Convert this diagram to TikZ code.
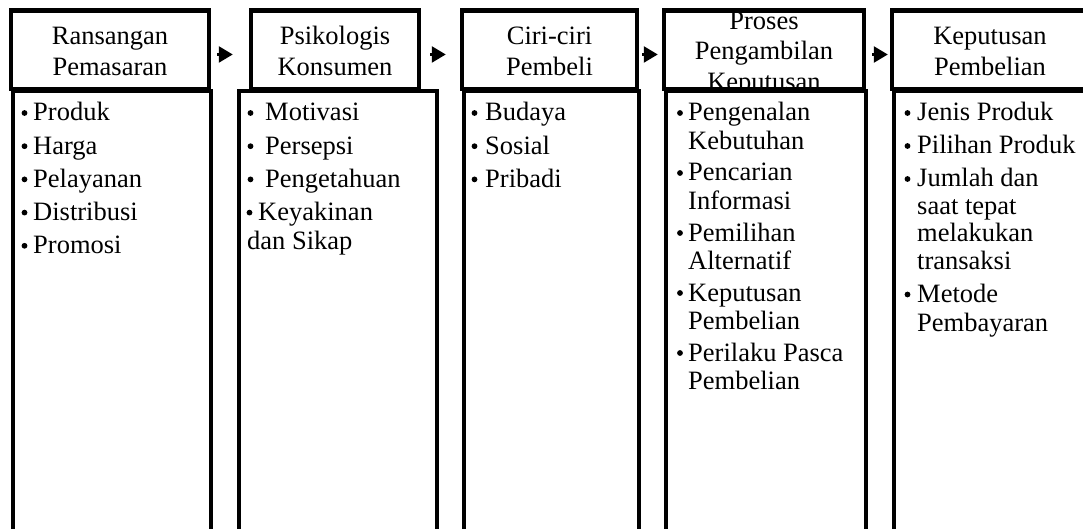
\documentclass[tikz,border=0pt]{standalone}
\usepackage{fontspec}
\setmainfont{Liberation Serif}
\usetikzlibrary{arrows.meta}
\tikzset{
  hdr/.style={draw, line width=4.5pt, rectangle, inner sep=0pt, minimum height=78.5pt},
  bodybox/.style={draw, line width=4pt, fill=white, rectangle, inner sep=0pt, anchor=north west, minimum height=520pt},
  htxt/.style={anchor=base, inner sep=0pt, font=\fontsize{26.5}{30.5}\selectfont},
  ltxt/.style={anchor=base west, inner sep=0pt, font=\fontsize{26.5}{30.5}\selectfont},
  dotn/.style={circle, fill=black, inner sep=0pt, minimum size=5.8pt},
  arr/.style={line width=2.5pt, -{Triangle[length=14pt,width=16pt]}}
}
\newcommand\hlines[1]{\begin{tabular}[t]{@{}c@{}}#1\end{tabular}}
\begin{document}
\begin{tikzpicture}[x=1pt,y=-1pt]
\useasboundingbox (0,0) rectangle (1083,529);
\clip (0,0) rectangle (1083,529);
% header boxes
\node[hdr, minimum width=198pt] (h1) at (110,49.75) {};
\node[hdr, minimum width=168pt] (h2) at (335,49.75) {};
\node[hdr, minimum width=175pt] (h3) at (549.5,49.75) {};
\node[hdr, minimum width=200pt] (h4) at (764,49.75) {};
\node[hdr, minimum width=196pt] (h5) at (990,49.75) {};
% header texts
\node[htxt] (t1) at (110,44.75) {\hlines{Ransangan\\Pemasaran}};
\node[htxt] (t2) at (335,44.75) {\hlines{Psikologis\\Konsumen}};
\node[htxt] (t3) at (549.5,44.75) {\hlines{Ciri-ciri\\Pembeli}};
\node[htxt] (t4) at (764,29.5) {\hlines{Proses\\Pengambilan\\Keputusan}};
\node[htxt] (t5) at (990,44.75) {\hlines{Keputusan\\Pembelian}};
% body boxes
\node[bodybox, minimum width=198pt] (d1) at (11,89) {};
\node[bodybox, minimum width=198pt] (d2) at (237,89) {};
\node[bodybox, minimum width=175pt] (d3) at (462,89) {};
\node[bodybox, minimum width=200pt] (d4) at (664,89) {};
\node[bodybox, minimum width=196pt] (d5) at (892,89) {};
% arrows
\draw[arr, shorten <=6pt, shorten >=16pt] ([yshift=-4.75pt]h1.east) -- ([yshift=-4.75pt]h2.west);
\draw[arr, shorten <=9pt, shorten >=14pt] ([yshift=-4.75pt]h2.east) -- ([yshift=-4.75pt]h3.west);
\draw[arr, shorten <=3pt, shorten >=4pt] ([yshift=-4.75pt]h3.east) -- ([yshift=-4.75pt]h4.west);
\draw[arr, shorten <=6pt, shorten >=2pt] ([yshift=-4.75pt]h4.east) -- ([yshift=-4.75pt]h5.west);
% box 1 list
\node[dotn] (b1a) at (24.5,113) {};   \node[ltxt] (l1a) at (33,121) {Produk};
\node[dotn] (b1b) at (24.5,146.2) {}; \node[ltxt] (l1b) at (33,154.2) {Harga};
\node[dotn] (b1c) at (24.5,179.4) {}; \node[ltxt] (l1c) at (33,187.4) {Pelayanan};
\node[dotn] (b1d) at (24.5,212.6) {}; \node[ltxt] (l1d) at (33,220.6) {Distribusi};
\node[dotn] (b1e) at (24.5,245.8) {}; \node[ltxt] (l1e) at (33,253.8) {Promosi};
% box 2 list
\node[dotn] (b2a) at (250.5,113) {};   \node[ltxt] (l2a) at (265,121) {Motivasi};
\node[dotn] (b2b) at (250.5,146.2) {}; \node[ltxt] (l2b) at (265,154.2) {Persepsi};
\node[dotn] (b2c) at (250.5,179.4) {}; \node[ltxt] (l2c) at (265,187.4) {Pengetahuan};
\node[dotn] (b2d) at (249.5,212.6) {}; \node[ltxt] (l2d) at (258,220.6) {Keyakinan};
\node[ltxt] (l2e) at (247,249.6) {dan Sikap};
% box 3 list
\node[dotn] (b3a) at (474.5,113) {};   \node[ltxt] (l3a) at (485,121) {Budaya};
\node[dotn] (b3b) at (474.5,146.2) {}; \node[ltxt] (l3b) at (485,154.2) {Sosial};
\node[dotn] (b3c) at (474.5,179.4) {}; \node[ltxt] (l3c) at (485,187.4) {Pribadi};
% box 4 list
\node[dotn] (b4a) at (680,113) {}; \node[ltxt] (l4a) at (688,121) {Pengenalan};
\node[ltxt] (l4b) at (688,149.7) {Kebutuhan};
\node[dotn] (b4c) at (680,173) {}; \node[ltxt] (l4c) at (688,181) {Pencarian};
\node[ltxt] (l4d) at (688,209.7) {Informasi};
\node[dotn] (b4e) at (680,233) {}; \node[ltxt] (l4e) at (688,241) {Pemilihan};
\node[ltxt] (l4f) at (688,269.7) {Alternatif};
\node[dotn] (b4g) at (680,293) {}; \node[ltxt] (l4g) at (688,301) {Keputusan};
\node[ltxt] (l4h) at (688,329.7) {Pembelian};
\node[dotn] (b4i) at (680,353) {}; \node[ltxt] (l4i) at (688,361) {Perilaku Pasca};
\node[ltxt] (l4j) at (688,389.7) {Pembelian};
% box 5 list
\node[dotn] (b5a) at (907.5,113) {};   \node[ltxt] (l5a) at (917,121) {Jenis Produk};
\node[dotn] (b5b) at (907.5,146) {};   \node[ltxt] (l5b) at (917,154) {Pilihan Produk};
\node[dotn] (b5c) at (907.5,179) {};   \node[ltxt] (l5c) at (917,187) {Jumlah dan};
\node[ltxt] (l5d) at (917,214.5) {saat tepat};
\node[ltxt] (l5e) at (917,242) {melakukan};
\node[ltxt] (l5f) at (917,269.5) {transaksi};
\node[dotn] (b5g) at (907.5,294.5) {}; \node[ltxt] (l5g) at (917,302.5) {Metode};
\node[ltxt] (l5h) at (917,331) {Pembayaran};
\end{tikzpicture}
\end{document}
